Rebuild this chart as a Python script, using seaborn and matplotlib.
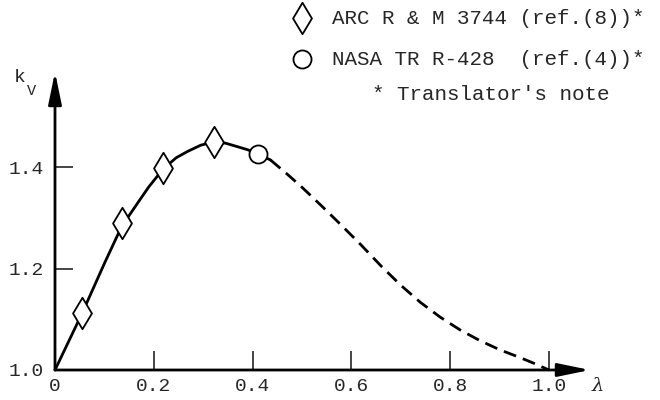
import matplotlib
matplotlib.use("Agg")
import matplotlib.pyplot as plt
import seaborn as sns

# ---- data ----
solid_x = [0.0, 0.055, 0.10, 0.135, 0.168, 0.19, 0.218, 0.245, 0.267, 0.295,
           0.321, 0.345, 0.366, 0.39, 0.410, 0.436]
solid_y = [1.0, 1.112, 1.210, 1.283, 1.330, 1.361, 1.395, 1.418, 1.430, 1.443,
           1.449, 1.447, 1.441, 1.434, 1.426, 1.414]
dash_x = [0.436, 0.47, 0.50, 0.54, 0.58, 0.62, 0.66, 0.70, 0.74, 0.78, 0.82,
          0.86, 0.90, 0.94, 0.97, 1.00]
dash_y = [1.414, 1.386, 1.360, 1.323, 1.285, 1.246, 1.205, 1.167, 1.133, 1.104,
          1.079, 1.058, 1.040, 1.025, 1.013, 1.000]
arc_x = [0.055, 0.135, 0.218, 0.321]
arc_y = [1.112, 1.290, 1.398, 1.449]
nasa_x = [0.410]
nasa_y = [1.426]
x_ticks = [0, 0.2, 0.4, 0.6, 0.8, 1.0]
x_labels = ["0", "0.2", "0.4", "0.6", "0.8", "1.0"]
y_ticks = [1.0, 1.2, 1.4]
y_labels = ["1.0", "1.2", "1.4"]
arc_label = "ARC R & M 3744 (ref.(8))*"
nasa_label = "NASA TR R-428  (ref.(4))*"
note = "* Translator's note"

sns.set_style("white")
plt.rcParams["font.family"] = ["Liberation Mono", "DejaVu Sans"]

fig = plt.figure(figsize=(6.6, 4.0), dpi=100)
ax = fig.add_axes([55 / 660, 30 / 400, 535 / 660, 298 / 400])
ax.set_xlim(0, 535 / 494)
ax.set_ylim(1.0, 1.0 + 298 / 507.5)

mono = "Liberation Mono"
lw = 2.0

sns.lineplot(x=solid_x, y=solid_y, ax=ax, color="black", lw=lw, sort=False,
             estimator=None, clip_on=False)
sns.lineplot(x=dash_x, y=dash_y, ax=ax, color="black", lw=lw, sort=False,
             estimator=None, clip_on=False)
ax.lines[-1].set_dashes([4.7, 2.6])

sns.scatterplot(x=arc_x, y=arc_y, ax=ax, marker="d", s=16 ** 2, facecolor="white",
                edgecolor="black", linewidth=1.3, zorder=5, clip_on=False,
                label=arc_label)
sns.scatterplot(x=nasa_x, y=nasa_y, ax=ax, marker="o", s=13 ** 2, facecolor="white",
                edgecolor="black", linewidth=1.3, zorder=5, clip_on=False,
                label=nasa_label)

for s in ax.spines.values():
    s.set_visible(False)

# axes with long narrow arrow heads
arrow_style = "-|>,head_length=0.97,head_width=0.2"
ax.annotate("", xy=(1, 0), xytext=(0, 0), xycoords="axes fraction",
            arrowprops=dict(arrowstyle=arrow_style, color="black", lw=2.0,
                            mutation_scale=20, shrinkA=0, shrinkB=0))
ax.annotate("", xy=(0, 1), xytext=(0, 0), xycoords="axes fraction",
            arrowprops=dict(arrowstyle=arrow_style, color="black", lw=2.0,
                            mutation_scale=20, shrinkA=0, shrinkB=0))

ax.set_xticks(x_ticks)
ax.set_xticklabels(x_labels)
ax.set_yticks(y_ticks)
ax.set_yticklabels(y_labels)
ax.tick_params(axis="x", direction="in", length=14, width=1.2, pad=6,
               labelsize=14, bottom=True)
ax.tick_params(axis="y", direction="in", length=13, width=1.2, pad=8,
               labelsize=14, left=True)
for t in ax.get_xticklabels() + ax.get_yticklabels():
    t.set_family(mono)
ax.set_xlabel("")
ax.set_ylabel("")

fig.text(14 / 660, 1 - 78 / 400, "k", fontsize=14, family=mono, va="center")
fig.text(27 / 660, 1 - 91 / 400, "V", fontsize=11, family=mono, va="center")
fig.text(592 / 660, 1 - 386 / 400, "λ", fontsize=14, family="DejaVu Serif",
         style="italic", va="center")

leg = ax.legend(loc="upper left", bbox_to_anchor=(292 / 660, 1 - 8.5 / 400),
                bbox_transform=fig.transFigure, frameon=False, borderpad=0,
                borderaxespad=0, handlelength=1.0, handletextpad=0.92,
                labelspacing=1.07, prop={"family": mono, "size": 15})
fig.text(372 / 660, 1 - 95 / 400, note, fontsize=15, family=mono, va="center")

fig.savefig("out.png", dpi=100)
